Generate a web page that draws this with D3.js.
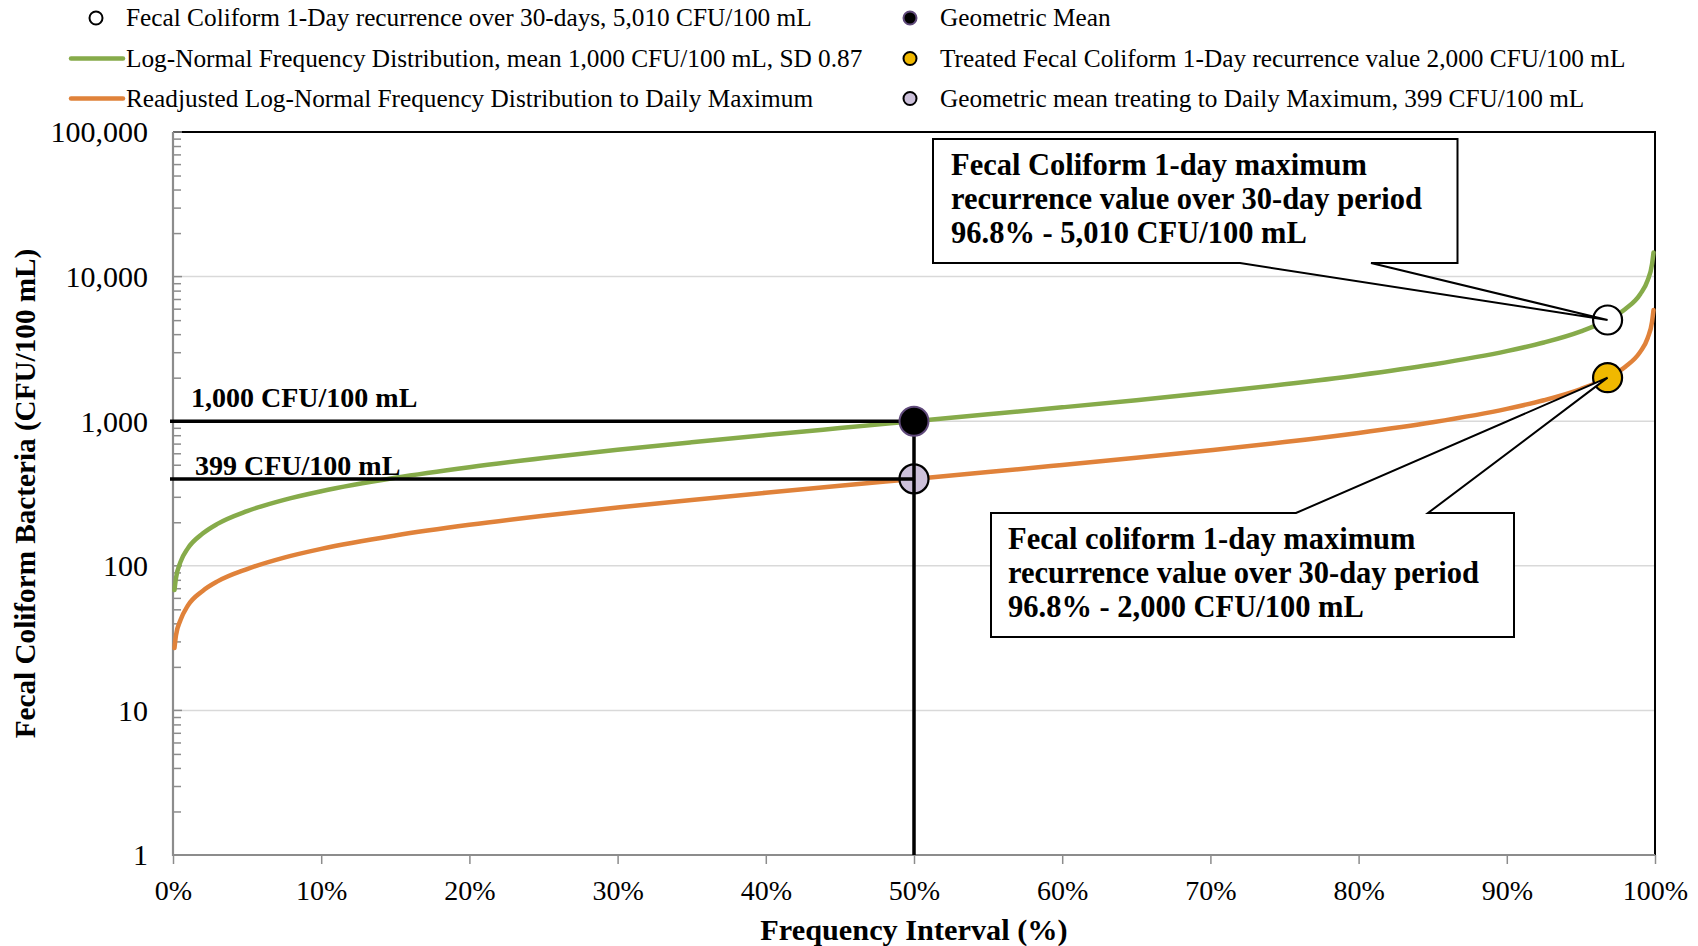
<!DOCTYPE html>
<html>
<head>
<meta charset="utf-8">
<script src="https://cdn.jsdelivr.net/npm/d3@7"></script>
<style>
  html, body { margin: 0; padding: 0; background: #fff; }
  svg { display: block; }
  text { font-family: "Liberation Serif", "Times New Roman", serif; fill: #000; }
</style>
</head>
<body>
<svg id="chart" width="1698" height="946"></svg>
<script>
// ---------------- data ----------------
const frequencyPct = [0.1, 0.2, 0.5, 1, 2, 3, 5, 7.5, 10, 15, 20, 25, 30, 35, 40, 45, 50,
  55, 60, 65, 70, 75, 80, 85, 90, 92.5, 95, 96.8, 98, 99, 99.5, 99.8, 99.9];
const logNormalValues = [68, 82, 106, 132, 167, 195, 239, 286, 328, 406, 481, 556, 634, 715, 802, 896, 1000,
  1116, 1247, 1398, 1578, 1798, 2079, 2464, 3050, 3500, 4184, 5010, 5970, 7560, 9400, 12200, 14700];
const readjustedValues = [27, 33, 42, 53, 67, 78, 95, 114, 131, 162, 192, 222, 253, 285, 320, 358, 399,
  445, 498, 558, 630, 717, 830, 983, 1217, 1397, 1669, 2000, 2382, 3016, 3751, 4868, 5865];

const recurrencePoint = { pct: 96.8, value: 5010 };
const geometricMeanPoint = { pct: 50, value: 1000 };
const treatedPoint = { pct: 96.8, value: 2000 };
const treatedMeanPoint = { pct: 50, value: 399 };

const yTickValues = [1, 10, 100, 1000, 10000, 100000];
const yTickLabels = ["1", "10", "100", "1,000", "10,000", "100,000"];
const xTickValues = [0, 10, 20, 30, 40, 50, 60, 70, 80, 90, 100];
const xTickLabels = ["0%", "10%", "20%", "30%", "40%", "50%", "60%", "70%", "80%", "90%", "100%"];

const legendLeft = [
  "Fecal Coliform 1-Day recurrence over 30-days, 5,010 CFU/100 mL",
  "Log-Normal Frequency Distribution, mean 1,000 CFU/100 mL, SD 0.87",
  "Readjusted Log-Normal Frequency Distribution to Daily Maximum"
];
const legendRight = [
  "Geometric Mean",
  "Treated Fecal Coliform 1-Day recurrence value 2,000 CFU/100 mL",
  "Geometric mean treating to Daily Maximum, 399 CFU/100 mL"
];
const callout1Lines = ["Fecal Coliform 1-day maximum", "recurrence value over 30-day period", "96.8% - 5,010 CFU/100 mL"];
const callout2Lines = ["Fecal coliform 1-day maximum", "recurrence value over 30-day period", "96.8% - 2,000 CFU/100 mL"];
const label1000 = "1,000 CFU/100 mL";
const label399 = "399 CFU/100 mL";
const xTitle = "Frequency Interval (%)";
const yTitle = "Fecal Coliform Bacteria (CFU/100 mL)";

// ---------------- styles ----------------
const GREEN = "#86ab4a", ORANGE = "#e0823a", GOLD = "#f0b800", LAVENDER = "#ccc0da", PURPLE = "#604a7b";
const AXIS_GRAY = "#8c8c8c", GRID = "#d9d9d9";

const svg = d3.select("#chart");
const plot = { left: 173, right: 1655, top: 132, bottom: 855 };

const x = d3.scaleLinear().domain([0, 100]).range([plot.left, plot.right]);
const y = d3.scaleLog().domain([1, 100000]).range([plot.bottom, plot.top]);

// gridlines
svg.append("g").selectAll("line").data(yTickValues.slice(1, -1)).join("line")
  .attr("x1", plot.left).attr("x2", plot.right)
  .attr("y1", d => y(d)).attr("y2", d => y(d))
  .attr("stroke", GRID).attr("stroke-width", 1.5);

// top & right border
svg.append("path")
  .attr("d", `M${plot.left},${plot.top} H${plot.right} V${plot.bottom}`)
  .attr("fill", "none").attr("stroke", "#000").attr("stroke-width", 2);

// y axis (minor ticks inward)
const minorTicks = [];
for (let e = 0; e < 5; e++) for (let m = 2; m <= 9; m++) minorTicks.push(m * Math.pow(10, e));
const yAxis = svg.append("g").attr("transform", `translate(${plot.left},0)`)
  .call(d3.axisRight(y).tickValues(minorTicks).tickSize(8).tickFormat(""));
yAxis.select(".domain").remove();
yAxis.selectAll(".tick line").attr("stroke", AXIS_GRAY).attr("stroke-width", 1.5);
const yAxisMajor = svg.append("g").attr("transform", `translate(${plot.left},0)`)
  .call(d3.axisLeft(y).tickValues(yTickValues).tickSize(0).tickPadding(25)
    .tickFormat((d, i) => yTickLabels[i]));
yAxisMajor.select(".domain").remove();
yAxisMajor.selectAll("text").attr("font-size", 30).attr("dy", "0.33em")
  .style("font-family", "'Liberation Serif', serif");
svg.append("g").selectAll("line").data(yTickValues).join("line")
  .attr("x1", plot.left).attr("x2", plot.left + 9)
  .attr("y1", d => y(d)).attr("y2", d => y(d))
  .attr("stroke", AXIS_GRAY).attr("stroke-width", 1.5);

// x axis
const xAxis = svg.append("g").attr("transform", `translate(0,${plot.bottom})`)
  .call(d3.axisBottom(x).tickValues(xTickValues).tickSize(9).tickPadding(16)
    .tickFormat((d, i) => xTickLabels[i]));
xAxis.select(".domain").remove();
xAxis.selectAll(".tick line").attr("stroke", AXIS_GRAY).attr("stroke-width", 1.5);
xAxis.selectAll("text").attr("font-size", 28)
  .style("font-family", "'Liberation Serif', serif");

// axis lines
svg.append("path")
  .attr("d", `M${plot.left},${plot.top} V${plot.bottom} H${plot.right}`)
  .attr("fill", "none").attr("stroke", AXIS_GRAY).attr("stroke-width", 2.2);

// curves
const pts = (vals) => frequencyPct.map((p, i) => [p, vals[i]]);
const line = d3.line().x(d => x(d[0])).y(d => y(d[1])).curve(d3.curveMonotoneX);
svg.append("path").datum(pts(logNormalValues)).attr("d", line)
  .attr("fill", "none").attr("stroke", GREEN).attr("stroke-width", 4.5).attr("stroke-linecap", "round");
svg.append("path").datum(pts(readjustedValues)).attr("d", line)
  .attr("fill", "none").attr("stroke", ORANGE).attr("stroke-width", 4.5).attr("stroke-linecap", "round");

// markers
const R = 14.5;
svg.append("circle").attr("cx", x(treatedMeanPoint.pct)).attr("cy", y(treatedMeanPoint.value)).attr("r", R)
  .attr("fill", LAVENDER).attr("stroke", "#000").attr("stroke-width", 2.2);

// reference lines
const lineStartX = plot.left - 3;
svg.append("line").attr("x1", lineStartX).attr("x2", x(geometricMeanPoint.pct))
  .attr("y1", y(geometricMeanPoint.value)).attr("y2", y(geometricMeanPoint.value))
  .attr("stroke", "#000").attr("stroke-width", 3.5);
svg.append("line").attr("x1", lineStartX).attr("x2", x(treatedMeanPoint.pct))
  .attr("y1", y(treatedMeanPoint.value)).attr("y2", y(treatedMeanPoint.value))
  .attr("stroke", "#000").attr("stroke-width", 3.5);
svg.append("line").attr("x1", x(geometricMeanPoint.pct)).attr("x2", x(geometricMeanPoint.pct))
  .attr("y1", y(geometricMeanPoint.value)).attr("y2", plot.bottom)
  .attr("stroke", "#000").attr("stroke-width", 3.5);

svg.append("circle").attr("cx", x(geometricMeanPoint.pct)).attr("cy", y(geometricMeanPoint.value)).attr("r", R)
  .attr("fill", "#000").attr("stroke", PURPLE).attr("stroke-width", 2);
svg.append("circle").attr("cx", x(recurrencePoint.pct)).attr("cy", y(recurrencePoint.value)).attr("r", R)
  .attr("fill", "#fff").attr("stroke", "#000").attr("stroke-width", 2.2);
svg.append("circle").attr("cx", x(treatedPoint.pct)).attr("cy", y(treatedPoint.value)).attr("r", R)
  .attr("fill", GOLD).attr("stroke", "#000").attr("stroke-width", 2.2);

// reference labels
svg.append("text").attr("x", 191).attr("y", y(geometricMeanPoint.value) - 14)
  .attr("font-size", 28).attr("font-weight", "bold").text(label1000);
svg.append("text").attr("x", 195).attr("y", y(treatedMeanPoint.value) - 4)
  .attr("font-size", 28).attr("font-weight", "bold").text(label399);

// callouts
function callout(box, wedge, tip, lines, textX, firstBaseline, below) {
  let d;
  if (below) {
    d = `M${box.x0},${box.y0} H${box.x1} V${box.y1} H${wedge[1]} L${tip[0]},${tip[1]} L${wedge[0]},${box.y1} H${box.x0} Z`;
  } else {
    d = `M${box.x0},${box.y0} H${wedge[0]} L${tip[0]},${tip[1]} L${wedge[1]},${box.y0} H${box.x1} V${box.y1} H${box.x0} Z`;
  }
  svg.append("path").attr("d", d).attr("fill", "#fff").attr("stroke", "#000")
    .attr("stroke-width", 2).attr("stroke-linejoin", "miter");
  svg.append("g").selectAll("text").data(lines).join("text")
    .attr("x", textX).attr("y", (dd, i) => firstBaseline + i * 34)
    .attr("font-size", 30.5).attr("font-weight", "bold").text(dd => dd);
}
callout({ x0: 933, y0: 139, x1: 1457.5, y1: 263 }, [1240, 1371],
  [x(recurrencePoint.pct), y(recurrencePoint.value)], callout1Lines, 951, 175, true);
callout({ x0: 991, y0: 513, x1: 1514, y1: 637 }, [1296, 1428],
  [x(treatedPoint.pct), y(treatedPoint.value)], callout2Lines, 1008, 549, false);

// axis titles
svg.append("text").attr("x", (plot.left + plot.right) / 2).attr("y", 940)
  .attr("text-anchor", "middle").attr("font-size", 30.3).attr("font-weight", "bold").text(xTitle);
svg.append("text").attr("transform", `translate(35,${(plot.top + plot.bottom) / 2}) rotate(-90)`)
  .attr("text-anchor", "middle").attr("font-size", 29.2).attr("font-weight", "bold").text(yTitle);

// legend
const rowsY = [18, 58.5, 98.5];
const lg = svg.append("g");
// left column
lg.append("circle").attr("cx", 96).attr("cy", rowsY[0]).attr("r", 6.5)
  .attr("fill", "#fff").attr("stroke", "#000").attr("stroke-width", 2);
lg.append("line").attr("x1", 71).attr("x2", 123).attr("y1", rowsY[1]).attr("y2", rowsY[1])
  .attr("stroke", GREEN).attr("stroke-width", 4.5).attr("stroke-linecap", "round");
lg.append("line").attr("x1", 71).attr("x2", 123).attr("y1", rowsY[2]).attr("y2", rowsY[2])
  .attr("stroke", ORANGE).attr("stroke-width", 4.5).attr("stroke-linecap", "round");
lg.selectAll("text.l").data(legendLeft).join("text").attr("class", "l")
  .attr("x", 126).attr("y", (d, i) => rowsY[i]).attr("dy", "0.33em")
  .attr("font-size", 25.3).text(d => d);
// right column
lg.append("circle").attr("cx", 910).attr("cy", rowsY[0]).attr("r", 6.5)
  .attr("fill", "#000").attr("stroke", PURPLE).attr("stroke-width", 2);
lg.append("circle").attr("cx", 910).attr("cy", rowsY[1]).attr("r", 6.5)
  .attr("fill", GOLD).attr("stroke", "#000").attr("stroke-width", 2);
lg.append("circle").attr("cx", 910).attr("cy", rowsY[2]).attr("r", 6.5)
  .attr("fill", LAVENDER).attr("stroke", "#000").attr("stroke-width", 2);
lg.selectAll("text.r").data(legendRight).join("text").attr("class", "r")
  .attr("x", 940).attr("y", (d, i) => rowsY[i]).attr("dy", "0.33em")
  .attr("font-size", 25.3).text(d => d);
</script>
</body>
</html>
